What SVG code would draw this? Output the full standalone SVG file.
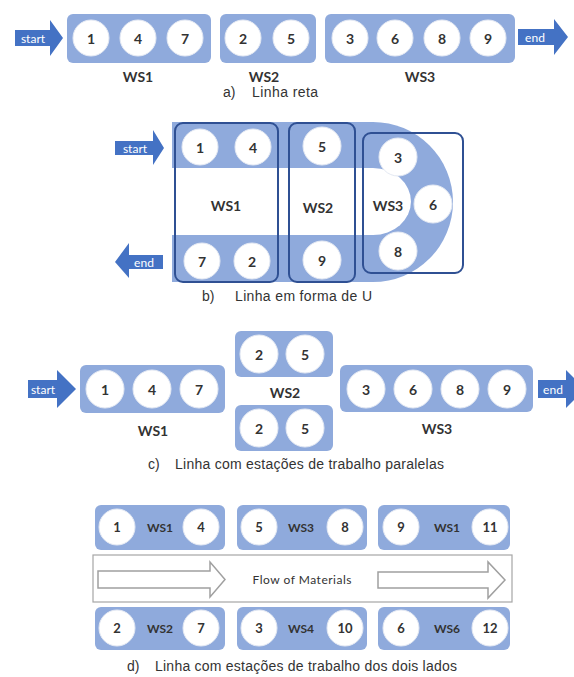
<svg xmlns="http://www.w3.org/2000/svg" width="574" height="677" viewBox="0 0 574 677">
<style>
.box{fill:#8FAADC;}
.c{fill:#FFFFFF;stroke:#E4E9F3;stroke-width:1;}
.n{font-family:Lato,"Liberation Sans",sans-serif;font-weight:bold;font-size:14px;fill:#333;text-anchor:middle;dominant-baseline:central;}
.nd{font-family:Lato,"Liberation Sans",sans-serif;font-weight:bold;font-size:13px;fill:#333;text-anchor:middle;dominant-baseline:central;}
.ws{font-family:Lato,"Liberation Sans",sans-serif;font-weight:bold;font-size:14px;fill:#333;text-anchor:middle;dominant-baseline:central;}
.wsd{font-family:Lato,"Liberation Sans",sans-serif;font-weight:bold;font-size:12px;fill:#333;text-anchor:middle;dominant-baseline:central;}
.cap{font-family:"Liberation Sans",Arial,sans-serif;font-size:14px;fill:#333;}
.arr{fill:#4472C4;}
.at{font-family:Lato,"Liberation Sans",sans-serif;font-size:12px;fill:#FFFFFF;text-anchor:middle;dominant-baseline:central;}
.ol{fill:none;stroke:#2F5093;stroke-width:2;}
.hollow{fill:#FFFFFF;stroke:#A0A0A0;stroke-width:1.5;}
</style>

<!-- ===== a) Linha reta ===== -->
<g id="a-start">
<polygon class="arr" points="15,30 50,30 50,20 63,38 50,56 50,46 15,46"/>
<text class="at" x="33" y="38">start</text>
</g>
<g id="a-ws1">
<rect class="box" x="67" y="14" width="144" height="49" rx="6"/>
<circle class="c" cx="91" cy="38" r="18"/><text class="n" x="91" y="38">1</text>
<circle class="c" cx="138" cy="38" r="18"/><text class="n" x="138" y="38">4</text>
<circle class="c" cx="185" cy="38" r="18"/><text class="n" x="185" y="38">7</text>
<text class="ws" x="138" y="76">WS1</text>
</g>
<g id="a-ws2">
<rect class="box" x="220" y="14" width="96" height="49" rx="6"/>
<circle class="c" cx="243" cy="38" r="18"/><text class="n" x="243" y="38">2</text>
<circle class="c" cx="291" cy="38" r="18"/><text class="n" x="291" y="38">5</text>
<text class="ws" x="264" y="76">WS2</text>
</g>
<g id="a-ws3">
<rect class="box" x="325" y="14" width="190" height="49" rx="6"/>
<circle class="c" cx="350" cy="38" r="18"/><text class="n" x="350" y="38">3</text>
<circle class="c" cx="395" cy="38" r="18"/><text class="n" x="395" y="38">6</text>
<circle class="c" cx="442" cy="38" r="18"/><text class="n" x="442" y="38">8</text>
<circle class="c" cx="488" cy="38" r="18"/><text class="n" x="488" y="38">9</text>
<text class="ws" x="420" y="76">WS3</text>
</g>
<g id="a-end">
<polygon class="arr" points="518,29 554,29 554,19 568,37 554,55 554,45 518,45"/>
<text class="at" x="535" y="37">end</text>
</g>
<text class="cap" x="223" y="97">a)</text>
<text class="cap" x="252" y="97" textLength="66">Linha reta</text>

<!-- ===== b) Linha em forma de U ===== -->
<g id="b-track">
<path class="box" d="M172,122 H373 A80,80 0 0 1 373,282 H172 Z"/>
<path fill="#FFFFFF" d="M172,168 H373 A38,33.5 0 0 1 373,235 H172 Z"/>
</g>
<g id="b-start">
<polygon class="arr" points="115,141 153,141 153,130 164,148 153,165 153,155 115,155"/>
<text class="at" x="135" y="148">start</text>
</g>
<g id="b-end">
<polygon class="arr" points="163,255 129,255 129,243 115,262 129,278 129,269 163,269"/>
<text class="at" x="144" y="262">end</text>
</g>
<g id="b-ws1">
<rect class="ol" x="175" y="123" width="103" height="159" rx="8"/>
<circle class="c" cx="200" cy="147" r="18"/><text class="n" x="200" y="147">1</text>
<circle class="c" cx="253" cy="147" r="18"/><text class="n" x="253" y="147">4</text>
<circle class="c" cx="202" cy="261" r="18"/><text class="n" x="202" y="261">7</text>
<circle class="c" cx="252" cy="261" r="18"/><text class="n" x="252" y="261">2</text>
<text class="ws" x="226" y="205">WS1</text>
</g>
<g id="b-ws2">
<rect class="ol" x="289" y="123" width="66" height="159" rx="8"/>
<circle class="c" cx="322" cy="146" r="19"/><text class="n" x="322" y="146">5</text>
<circle class="c" cx="322" cy="260" r="19"/><text class="n" x="322" y="260">9</text>
<text class="ws" x="318" y="207">WS2</text>
</g>
<g id="b-ws3">
<rect class="ol" x="363" y="133" width="100" height="140" rx="8"/>
<circle class="c" cx="398" cy="157" r="19"/><text class="n" x="398" y="157">3</text>
<circle class="c" cx="433" cy="204" r="19"/><text class="n" x="433" y="204">6</text>
<circle class="c" cx="398" cy="251" r="19"/><text class="n" x="398" y="251">8</text>
<text class="ws" x="388" y="205">WS3</text>
</g>
<text class="cap" x="202" y="301">b)</text>
<text class="cap" x="235" y="301" textLength="137">Linha em forma de U</text>

<!-- ===== c) Linha com estações de trabalho paralelas ===== -->
<g id="c-start">
<polygon class="arr" points="28,380 57,380 57,370 76,389 57,408 57,398 28,398"/>
<text class="at" x="43" y="389">start</text>
</g>
<g id="c-ws1">
<rect class="box" x="80" y="365" width="145" height="48" rx="6"/>
<circle class="c" cx="105" cy="389" r="19"/><text class="n" x="105" y="389">1</text>
<circle class="c" cx="152" cy="389" r="19"/><text class="n" x="152" y="389">4</text>
<circle class="c" cx="199" cy="389" r="19"/><text class="n" x="199" y="389">7</text>
<text class="ws" x="153" y="430">WS1</text>
</g>
<g id="c-ws2">
<rect class="box" x="235" y="331" width="98" height="46" rx="6"/>
<circle class="c" cx="259" cy="354" r="19"/><text class="n" x="259" y="354">2</text>
<circle class="c" cx="305" cy="354" r="19"/><text class="n" x="305" y="354">5</text>
<rect class="box" x="235" y="405" width="98" height="46" rx="6"/>
<circle class="c" cx="259" cy="428" r="19"/><text class="n" x="259" y="428">2</text>
<circle class="c" cx="305" cy="428" r="19"/><text class="n" x="305" y="428">5</text>
<text class="ws" x="285" y="392">WS2</text>
</g>
<g id="c-ws3">
<rect class="box" x="340" y="365" width="193" height="47" rx="6"/>
<circle class="c" cx="366" cy="389" r="19"/><text class="n" x="366" y="389">3</text>
<circle class="c" cx="413" cy="389" r="19"/><text class="n" x="413" y="389">6</text>
<circle class="c" cx="460" cy="389" r="19"/><text class="n" x="460" y="389">8</text>
<circle class="c" cx="507" cy="389" r="19"/><text class="n" x="507" y="389">9</text>
<text class="ws" x="437" y="428">WS3</text>
</g>
<g id="c-end">
<polygon class="arr" points="538,380 566,380 566,370 585,389 566,408 566,398 538,398"/>
<text class="at" x="553" y="389">end</text>
</g>
<text class="cap" x="148" y="469">c)</text>
<text class="cap" x="175" y="469" textLength="269">Linha com estações de trabalho paralelas</text>

<!-- ===== d) Linha com estações de trabalho dos dois lados ===== -->
<g id="d-flow">
<rect x="93" y="555" width="419" height="47" fill="#FFFFFF" stroke="#A6A6A6" stroke-width="1.2"/>
<text x="302" y="579" font-family="Lato,'Liberation Sans',sans-serif" font-size="12" fill="#333" text-anchor="middle" dominant-baseline="central" textLength="99">Flow of Materials</text>
</g>
<g id="connectors">
<polygon class="hollow" points="98,571 210,571 210,562 225,579.5 210,597 210,588 98,588"/>
<polygon class="hollow" points="378,572 488,572 488,562 505,580 488,598 488,588 378,588"/>
</g>
<g id="d-ws1a">
<rect class="box" x="95" y="505" width="130" height="45" rx="6"/>
<circle class="c" cx="117" cy="527" r="18"/><text class="nd" x="117" y="527">1</text>
<text class="wsd" x="160" y="527">WS1</text>
<circle class="c" cx="201" cy="527" r="18"/><text class="nd" x="201" y="527">4</text>
</g>
<g id="d-ws3">
<rect class="box" x="237" y="505" width="130" height="45" rx="6"/>
<circle class="c" cx="259" cy="527" r="18"/><text class="nd" x="259" y="527">5</text>
<text class="wsd" x="301" y="527">WS3</text>
<circle class="c" cx="345" cy="527" r="18"/><text class="nd" x="345" y="527">8</text>
</g>
<g id="d-ws1b">
<rect class="box" x="378" y="505" width="132" height="45" rx="6"/>
<circle class="c" cx="401" cy="527" r="18"/><text class="nd" x="401" y="527">9</text>
<text class="wsd" x="447" y="527">WS1</text>
<circle class="c" cx="490" cy="527" r="18"/><text class="nd" x="490" y="527">11</text>
</g>
<g id="d-ws2">
<rect class="box" x="95" y="607" width="130" height="43" rx="6"/>
<circle class="c" cx="117" cy="628" r="18"/><text class="nd" x="117" y="628">2</text>
<text class="wsd" x="160" y="628">WS2</text>
<circle class="c" cx="201" cy="628" r="18"/><text class="nd" x="201" y="628">7</text>
</g>
<g id="d-ws4">
<rect class="box" x="237" y="607" width="130" height="43" rx="6"/>
<circle class="c" cx="259" cy="628" r="18"/><text class="nd" x="259" y="628">3</text>
<text class="wsd" x="301" y="628">WS4</text>
<circle class="c" cx="345" cy="628" r="18"/><text class="nd" x="345" y="628">10</text>
</g>
<g id="d-ws6">
<rect class="box" x="378" y="607" width="132" height="43" rx="6"/>
<circle class="c" cx="401" cy="628" r="18"/><text class="nd" x="401" y="628">6</text>
<text class="wsd" x="447" y="628">WS6</text>
<circle class="c" cx="490" cy="628" r="18"/><text class="nd" x="490" y="628">12</text>
</g>
<text class="cap" x="127" y="671">d)</text>
<text class="cap" x="155" y="671" textLength="302">Linha com estações de trabalho dos dois lados</text>
</svg>
